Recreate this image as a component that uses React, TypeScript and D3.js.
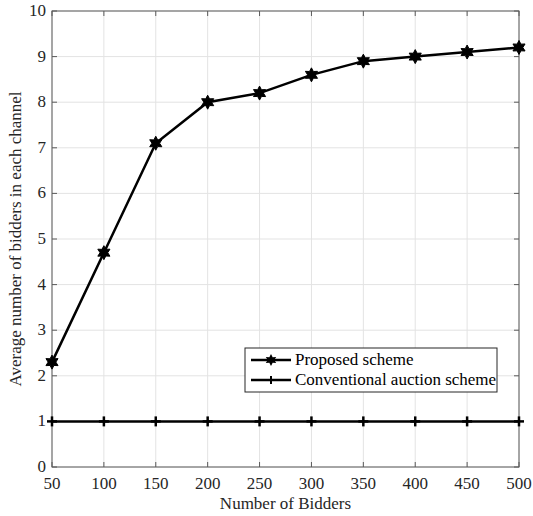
import React from "react";
import * as d3 from "d3";

const bidders = [50, 100, 150, 200, 250, 300, 350, 400, 450, 500];
const proposed = [2.3, 4.7, 7.1, 8.0, 8.2, 8.6, 8.9, 9.0, 9.1, 9.2];
const conventional = [1, 1, 1, 1, 1, 1, 1, 1, 1, 1];
const xTicks = [50, 100, 150, 200, 250, 300, 350, 400, 450, 500];
const yTicks = [0, 1, 2, 3, 4, 5, 6, 7, 8, 9, 10];
const seriesNames = ["Proposed scheme", "Conventional auction scheme"];

const W = 533, H = 516;
const L = 52, R = 519, T = 11, B = 467;
const font = "Liberation Serif, DejaVu Serif, serif";
const fs = 17;

function hexagram(cx: number, cy: number, r: number) {
  const pts: string[] = [];
  for (let i = 0; i < 12; i++) {
    const a = (Math.PI / 6) * i - Math.PI / 2;
    const rr = i % 2 === 0 ? r : r * 0.55;
    pts.push(`${cx + rr * Math.cos(a)},${cy + rr * Math.sin(a)}`);
  }
  return pts.join(" ");
}

export default function App() {
  const x = d3.scaleLinear().domain([50, 500]).range([L, R]);
  const y = d3.scaleLinear().domain([0, 10]).range([B, T]);
  const line = d3.line<number>().x((_, i) => x(bidders[i])).y((d) => y(d));
  const axisColor = "#5a5a5a";
  const tickLen = 5;
  const lx = 245, ly = 348, lw = 252, lh = 44;
  const ts = { fontFamily: font, fontSize: fs };
  return (
    <svg width={W} height={H} style={{ position: "absolute", left: 0, top: 0, background: "#fff", fontFamily: font }}>
      <rect x={0} y={0} width={W} height={H} fill="#fff" />
      {xTicks.map((t) => (
        <line key={"gx" + t} x1={x(t)} x2={x(t)} y1={T} y2={B} stroke="#e3e3e3" strokeWidth={1} />
      ))}
      {yTicks.map((t) => (
        <line key={"gy" + t} x1={L} x2={R} y1={y(t)} y2={y(t)} stroke="#e3e3e3" strokeWidth={1} />
      ))}
      <rect x={L} y={T} width={R - L} height={B - T} fill="none" stroke={axisColor} strokeWidth={1} />
      {xTicks.map((t) => (
        <g key={"tx" + t}>
          <line x1={x(t)} x2={x(t)} y1={B} y2={B - tickLen} stroke={axisColor} />
          <line x1={x(t)} x2={x(t)} y1={T} y2={T + tickLen} stroke={axisColor} />
          <text x={x(t)} y={489} textAnchor="middle" style={ts} fill="#262626">{t}</text>
        </g>
      ))}
      {yTicks.map((t) => (
        <g key={"ty" + t}>
          <line x1={L} x2={L + tickLen} y1={y(t)} y2={y(t)} stroke={axisColor} />
          <line x1={R} x2={R - tickLen} y1={y(t)} y2={y(t)} stroke={axisColor} />
          <text x={46} y={y(t) + 5} textAnchor="end" style={ts} fill="#262626">{t}</text>
        </g>
      ))}
      <text x={(L + R) / 2} y={509} textAnchor="middle" style={ts} fill="#262626">Number of Bidders</text>
      <text transform={`translate(21,${(T + B) / 2}) rotate(-90)`} textAnchor="middle" style={ts} fill="#262626">Average number of bidders in each channel</text>

      <path d={line(conventional) || ""} fill="none" stroke="#000" strokeWidth={2.5} />
      {conventional.map((v, i) => (
        <g key={"c" + i} stroke="#000" strokeWidth={2.5}>
          <line x1={x(bidders[i]) - 5} x2={x(bidders[i]) + 5} y1={y(v)} y2={y(v)} />
          <line x1={x(bidders[i])} x2={x(bidders[i])} y1={y(v) - 5} y2={y(v) + 5} />
        </g>
      ))}
      <path d={line(proposed) || ""} fill="none" stroke="#000" strokeWidth={2.5} />
      {proposed.map((v, i) => (
        <polygon key={"p" + i} points={hexagram(x(bidders[i]), y(v), 7)} fill="#000" stroke="#000" strokeWidth={1} />
      ))}

      <rect x={lx} y={ly} width={lw} height={lh} fill="#fff" stroke="#262626" strokeWidth={1} />
      <line x1={lx + 6} x2={lx + 46} y1={ly + 12} y2={ly + 12} stroke="#000" strokeWidth={2.5} />
      <polygon points={hexagram(lx + 26, ly + 12, 6)} fill="#000" />
      <text x={lx + 50} y={ly + 17} style={ts} fill="#000">{seriesNames[0]}</text>
      <line x1={lx + 6} x2={lx + 46} y1={ly + 32} y2={ly + 32} stroke="#000" strokeWidth={2.5} />
      <line x1={lx + 26} x2={lx + 26} y1={ly + 28} y2={ly + 36} stroke="#000" strokeWidth={2} />
      <text x={lx + 50} y={ly + 37} style={ts} fill="#000">{seriesNames[1]}</text>
    </svg>
  );
}
